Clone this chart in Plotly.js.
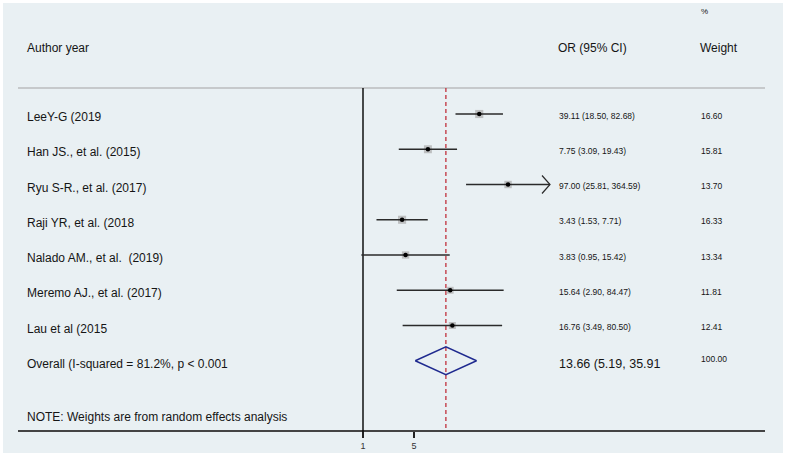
<!DOCTYPE html>
<html>
<head>
<meta charset="utf-8">
<script src="https://cdn.plot.ly/plotly-3.0.1.min.js"></script>
<style>html,body{margin:0;padding:0;background:#fff;}#chart{width:786px;height:458px;}</style>
</head>
<body>
<div id="chart"></div>
<script>
// ---- data ----
const studies = ["LeeY-G (2019", "Han JS., et al. (2015)", "Ryu S-R., et al. (2017)", "Raji YR, et al. (2018",
                 "Nalado AM., et al.  (2019)", "Meremo AJ., et al. (2017)", "Lau et al (2015"];
const orValues = [39.11, 7.75, 97.00, 3.43, 3.83, 15.64, 16.76];
const ciLow    = [18.50, 3.09, 25.81, 1.53, 0.95, 2.90, 3.49];
const ciHigh   = [82.68, 19.43, 364.59, 7.71, 15.42, 84.47, 80.50];
const weights  = [16.60, 15.81, 13.70, 16.33, 13.34, 11.81, 12.41];
const arrowFlag = [0, 0, 1, 0, 0, 0, 0];
const overallLabel = "Overall (I-squared = 81.2%, p < 0.001";
const overallOR = 13.66, overallLow = 5.19, overallHigh = 35.91;
const overallText = "13.66 (5.19, 35.91";
const overallWeight = "100.00";
const noteText = "NOTE: Weights are from random effects analysis";
const tickVals = [1, 5];
const tickText = ["1", "5"];

// ---- geometry helpers (layout only) ----
const W = 786, H = 458;
const rowPx0 = 114, rowStep = 35.25;          // pixel of row 0, pixels per row
const pxToRow = p => (p - rowPx0) / rowStep;
const px = v => v / W, py = v => 1 - v / H;
const font = "Liberation Sans, Arial, Helvetica, sans-serif";
const txtCol = "#151515";
const n = studies.length;
const rows = studies.map((_, i) => i);
const overallRow = n;

// CI lines
const ciX = [], ciY = [];
for (let i = 0; i < n; i++) { ciX.push(ciLow[i], ciHigh[i], null); ciY.push(i, i, null); }
// arrowheads for truncated CIs
const arX = [], arY = [];
const back = Math.pow(10, -8 / 73), half = 9 / rowStep;
for (let i = 0; i < n; i++) if (arrowFlag[i]) {
  arX.push(ciHigh[i] * back, ciHigh[i], ciHigh[i] * back, null);
  arY.push(i - half, i, i + half, null);
}
const dh = 14 / rowStep;

const traces = [
  {x: [1, 1], y: [pxToRow(88), pxToRow(437)], mode: "lines", line: {color: "#000", width: 1.4}, hoverinfo: "skip"},
  {x: [overallOR, overallOR], y: [pxToRow(88), pxToRow(431)], mode: "lines",
   line: {color: "#c0303c", width: 1.3, dash: "4px,3px"}, hoverinfo: "skip"},
  {x: orValues, y: rows, mode: "markers", hoverinfo: "skip",
   marker: {symbol: "square", color: "#a9a9a9", size: weights.map(w => 2.0 * Math.sqrt(w)), line: {width: 0}}},
  {x: ciX, y: ciY, mode: "lines", line: {color: "#2a2a2a", width: 1.4}, hoverinfo: "skip"},
  {x: arX, y: arY, mode: "lines", line: {color: "#2a2a2a", width: 1.2}, hoverinfo: "skip"},
  {x: orValues, y: rows, mode: "markers", hoverinfo: "skip",
   marker: {symbol: "circle", color: "#000", size: 4.5, line: {width: 0}}},
  {x: [overallLow, overallOR, overallHigh, overallOR, overallLow],
   y: [overallRow, overallRow - dh, overallRow, overallRow + dh, overallRow],
   mode: "lines", line: {color: "#1f2a8f", width: 1.4}, hoverinfo: "skip"}
];

const ann = [];
const addText = (text, x, y, yref, size, yshift) => ann.push({
  text: text, x: x, y: y, xref: "paper", yref: yref, xanchor: "left", yanchor: "middle",
  showarrow: false, yshift: yshift || 0, font: {family: font, size: size, color: txtCol}
});
addText("Author year", px(25), py(48), "paper", 12);
addText("OR (95% CI)", px(556), py(48), "paper", 12);
addText("Weight", px(698), py(48), "paper", 12);
addText("%", px(699), py(11), "paper", 8);
for (let i = 0; i < n; i++) {
  addText(studies[i], px(25), i, "y", 12, -3);
  addText(orValues[i].toFixed(2) + " (" + ciLow[i].toFixed(2) + ", " + ciHigh[i].toFixed(2) + ")", px(557), i, "y", 8.5, -1.5);
  addText(weights[i].toFixed(2), px(699), i, "y", 8.5, -1.5);
}
addText(overallLabel, px(25), overallRow, "y", 12, -3);
addText(overallText, px(557), overallRow, "y", 12.5, -3);
addText(overallWeight, px(699), overallRow, "y", 8.5, 2);
addText(noteText, px(25), py(417), "paper", 12);

const layout = {
  width: W, height: H, margin: {l: 0, r: 0, t: 0, b: 0},
  paper_bgcolor: "#ffffff", plot_bgcolor: "rgba(0,0,0,0)", showlegend: false,
  xaxis: {type: "log", range: [-363 / 73, (W - 363) / 73], anchor: "free", position: 1 - 431 / H,
          showgrid: false, zeroline: false, showline: false, ticks: "outside", ticklen: 6, tickwidth: 1.4,
          tickcolor: "#222", tickvals: tickVals, ticktext: tickText,
          tickfont: {family: font, size: 9, color: "#333"}, fixedrange: true},
  yaxis: {range: [pxToRow(H), pxToRow(0)], visible: false, showgrid: false, zeroline: false, fixedrange: true},
  shapes: [
    {type: "rect", xref: "paper", yref: "paper", x0: px(3), x1: px(783), y0: py(453), y1: py(3),
     fillcolor: "#e9f0f3", line: {width: 0}, layer: "below"},
    {type: "line", xref: "paper", yref: "paper", x0: px(18), x1: px(765), y0: py(88), y1: py(88),
     line: {color: "#c6c9cb", width: 2}, layer: "below"},
    {type: "line", xref: "paper", yref: "paper", x0: px(18), x1: px(765), y0: py(431), y1: py(431),
     line: {color: "#444", width: 2}, layer: "below"}
  ],
  annotations: ann
};

Plotly.newPlot("chart", traces, layout, {displayModeBar: false, staticPlot: true});
</script>
</body>
</html>
